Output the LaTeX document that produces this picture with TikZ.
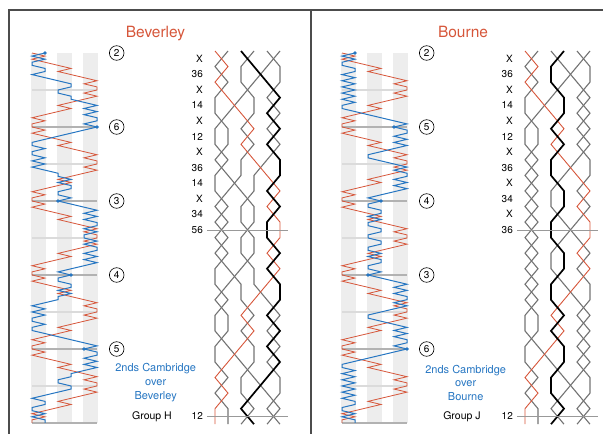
\documentclass[tikz,border=0pt]{standalone}
\usepackage{fontspec}
\setmainfont{TeX Gyre Heros}
\usetikzlibrary{positioning}
\definecolor{trbred}{RGB}{214,86,58}
\definecolor{crsblue}{RGB}{38,118,194}

% one lead, rows 1..24, of the bell that starts in place 1..6
\def\trb{2,1,2,3,4,3,4,5,6,5,6,6,5,6,5,4,3,4,3,2,1,2,1,1}
\def\bevB{1,2,1,1,2,2,1,2,3,4,4,3,3,4,4,5,6,5,6,5,6,6,5,6}
\def\bevC{4,5,6,5,6,5,6,6,5,6,5,5,6,5,6,6,5,6,5,6,5,4,3,4}
\def\bevD{3,3,4,4,3,4,3,3,2,1,2,1,2,1,1,2,1,1,2,3,4,5,6,5}
\def\bevE{6,6,5,6,5,6,5,4,4,3,3,4,4,3,2,1,2,2,1,1,2,1,2,2}
\def\bevF{5,4,3,2,1,1,2,1,1,2,1,2,1,2,3,3,4,3,4,4,3,3,4,3}
\def\bouB{1,2,1,1,2,2,1,2,1,2,1,2,1,2,1,2,1,1,2,3,4,5,6,5}
\def\bouC{4,5,6,5,6,5,6,6,5,6,5,4,3,3,4,5,6,5,6,5,6,6,5,6}
\def\bouD{3,3,4,4,3,4,3,3,4,4,3,3,4,4,3,3,4,3,4,4,3,3,4,3}
\def\bouE{6,6,5,6,5,6,5,4,3,3,4,5,6,5,6,6,5,6,5,6,5,4,3,4}
\def\bouF{5,4,3,2,1,1,2,1,2,1,2,1,2,1,2,1,2,2,1,1,2,1,2,2}
% plain courses
\edef\trbCourse{\trb,\trb,\trb,\trb,\trb}
\edef\bevCourse{\bevB,\bevF,\bevC,\bevD,\bevE}
\edef\bouCourse{\bouB,\bouE,\bouD,\bouC,\bouF}

\begin{document}
\begin{tikzpicture}[x=1pt, y=-1pt]
\tikzstyle{frm}=[black!70, line width=1.3pt]
\tikzstyle{ttl}=[anchor=base, text=trbred, font=\fontsize{15.5}{18}\selectfont]
\tikzstyle{pn}=[anchor=east, inner sep=0pt, font=\fontsize{10}{12}\selectfont]
\tikzstyle{grp}=[inner sep=0pt, font=\fontsize{10.5}{12}\selectfont]
\tikzstyle{nm}=[align=center, text=crsblue, font=\fontsize{11}{13.7}\selectfont]
\tikzstyle{pb}=[circle, draw, line width=0.6pt, minimum size=14.6pt, inner sep=0pt, font=\fontsize{10}{12}\selectfont]
\tikzstyle{band}=[black!7]
\tikzstyle{hlb}=[black!14, line width=2.6pt]
\tikzstyle{leb}=[black!30, line width=2.6pt]
\tikzstyle{trbl}=[trbred, line width=0.8pt]
\tikzstyle{crs}=[crsblue, line width=1pt]
\tikzstyle{gw}=[black!55, line width=1.1pt]
\tikzstyle{tw}=[trbred, line width=0.9pt]
\tikzstyle{bw}=[black, line width=1.7pt]
\tikzstyle{hl}=[black!40, line width=0.5pt]
\useasboundingbox (0,0) rectangle (603,434);
\draw[frm] (9,434) -- (9,10) -- (603,10);
\draw[frm] (311,10) -- (311,434);

%%%% Beverley
\node[ttl] (bv-ttl) at (155.5,37.3) {Beverley};
\begin{scope}[shift={(19,53)}, x=13pt, y=-3.083pt]
\foreach \i in {1,3,5} {\fill[band] (\i-0.06,0) rectangle (\i+1.06,120);}
\foreach \j in {12,36,60,84,108} {\draw[hlb] (1,\j) -- (6,\j);}
\foreach \j in {24,48,72,96,120} {\draw[leb] (1,\j) -- (6,\j);}
\draw[trbl] (1,0) \foreach \pl [count=\rw] in \trbCourse {-- (\pl,\rw)};
\draw[crs] (2,0) \foreach \pl [count=\rw] in \bevCourse {-- (\pl,\rw)};
\foreach \pl [count=\l from 0] in {2,6,3,4,5} {\fill[crsblue] (\pl,24*\l) circle (1.8pt);}
\end{scope}
\foreach \pl [count=\l from 0] in {2,6,3,4,5} {\node[pb] (bv-pb\l) at (116.7,53+74*\l) {\pl};}
\node[nm] (bv-nm) at (155.7,382.7) {2nds Cambridge\\over\\Beverley};
\begin{scope}[shift={(202,51)}, x=13pt, y=-15.55pt]
\foreach \t [count=\c] in {X,36,X,14,X,12,X,36,14,X,34,56} {\node[pn] (bv-n\c) at (0.08,\c-0.5) {\t};}
\node[pn] (bv-le) at (0.08,23.5) {12};
\node[grp] (bv-grp) at (-3.85,23.5) {Group H};
\draw[gw] (2,0) \foreach \pl [count=\rw] in \bevB {-- (\pl,\rw)};
\draw[gw] (4,0) \foreach \pl [count=\rw] in \bevD {-- (\pl,\rw)};
\draw[gw] (5,0) \foreach \pl [count=\rw] in \bevE {-- (\pl,\rw)};
\draw[gw] (6,0) \foreach \pl [count=\rw] in \bevF {-- (\pl,\rw)};
\draw[tw] (1,0) \foreach \pl [count=\rw] in \trb {-- (\pl,\rw)};
\draw[bw] (3,0) \foreach \pl [count=\rw] in \bevC {-- (\pl,\rw)};
\draw[hl] (0.4,11.5) -- (6.6,11.5);
\draw[hl] (0.4,23.5) -- (6.6,23.5);
\end{scope}

%%%% Bourne
\begin{scope}[xshift=310pt]
\node[ttl] (bo-ttl) at (153,37.3) {Bourne};
\begin{scope}[shift={(19,53)}, x=13pt, y=-3.083pt]
\foreach \i in {1,3,5} {\fill[band] (\i-0.06,0) rectangle (\i+1.06,120);}
\foreach \j in {12,36,60,84,108} {\draw[hlb] (1,\j) -- (6,\j);}
\foreach \j in {24,48,72,96,120} {\draw[leb] (1,\j) -- (6,\j);}
\draw[trbl] (1,0) \foreach \pl [count=\rw] in \trbCourse {-- (\pl,\rw)};
\draw[crs] (2,0) \foreach \pl [count=\rw] in \bouCourse {-- (\pl,\rw)};
\foreach \pl [count=\l from 0] in {2,5,4,3,6} {\fill[crsblue] (\pl,24*\l) circle (1.8pt);}
\end{scope}
\foreach \pl [count=\l from 0] in {2,5,4,3,6} {\node[pb] (bo-pb\l) at (116.7,53+74*\l) {\pl};}
\node[nm] (bo-nm) at (155.7,382.7) {2nds Cambridge\\over\\Bourne};
\begin{scope}[shift={(202,51)}, x=13pt, y=-15.55pt]
\foreach \t [count=\c] in {X,36,X,14,X,12,X,36,X,34,X,36} {\node[pn] (bo-n\c) at (0.08,\c-0.5) {\t};}
\node[pn] (bo-le) at (0.08,23.5) {12};
\node[grp] (bo-grp) at (-3.85,23.5) {Group J};
\draw[gw] (2,0) \foreach \pl [count=\rw] in \bouB {-- (\pl,\rw)};
\draw[gw] (3,0) \foreach \pl [count=\rw] in \bouC {-- (\pl,\rw)};
\draw[gw] (5,0) \foreach \pl [count=\rw] in \bouE {-- (\pl,\rw)};
\draw[gw] (6,0) \foreach \pl [count=\rw] in \bouF {-- (\pl,\rw)};
\draw[tw] (1,0) \foreach \pl [count=\rw] in \trb {-- (\pl,\rw)};
\draw[bw] (4,0) \foreach \pl [count=\rw] in \bouD {-- (\pl,\rw)};
\draw[hl] (0.4,11.5) -- (6.6,11.5);
\draw[hl] (0.4,23.5) -- (6.6,23.5);
\end{scope}
\end{scope}
\end{tikzpicture}
\end{document}
